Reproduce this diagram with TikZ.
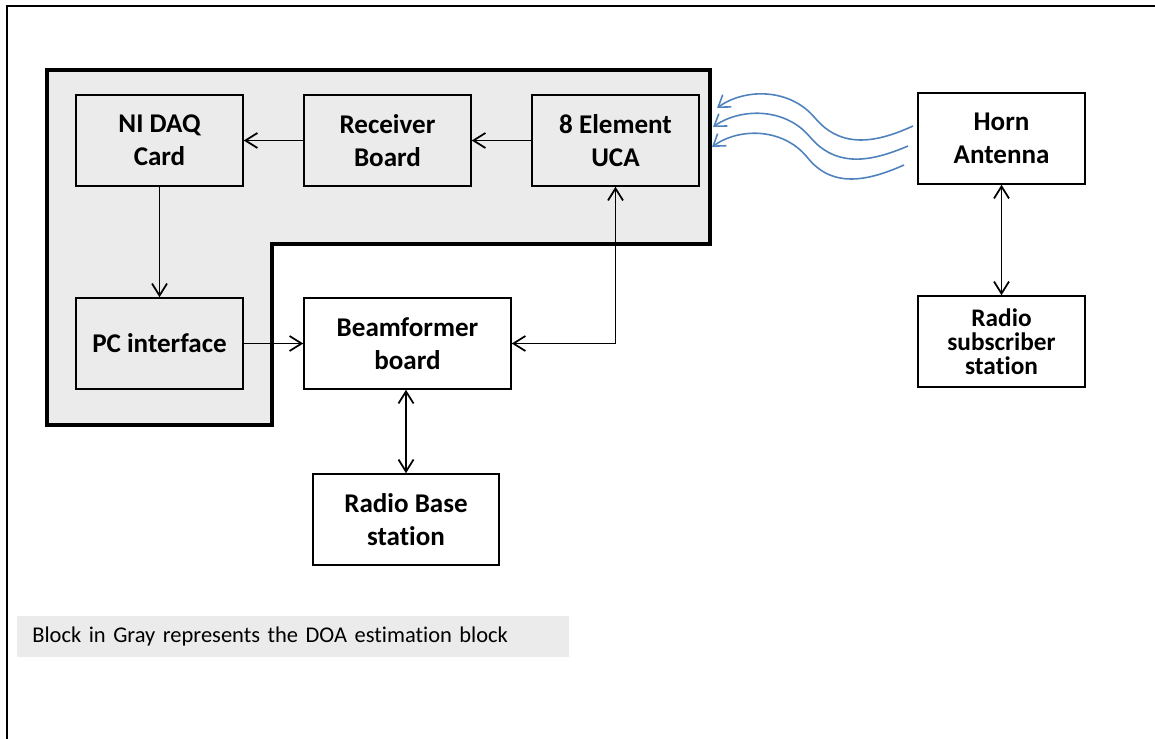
\documentclass[tikz,border=0pt]{standalone}
\usepackage{fontspec}
\setmainfont{Carlito}[Ligatures=NoCommon]
\usetikzlibrary{arrows.meta,positioning,calc}
\definecolor{doagray}{HTML}{EBEBEB}
\definecolor{wave}{HTML}{4F81BD}

\begin{document}
\begin{tikzpicture}[x=0.02cm,y=-0.02cm,
box/.style={draw,line width=0.9pt,align=center,minimum width=3.34cm,minimum height=1.82cm,font=\fontsize{15.4}{19}\selectfont\bfseries},
arrow/.style={-{Straight Barb[length=2.4mm,width=3mm]},line width=1pt},
dblarrow/.style={{Straight Barb[length=2.4mm,width=3mm]}-{Straight Barb[length=2.4mm,width=3mm]},line width=1pt},
wavy/.style={-{Straight Barb[length=2.2mm,width=3mm]},wave,line width=0.9pt},
note/.style={fill=doagray,anchor=west,minimum width=11.04cm,minimum height=0.82cm,text width=10.44cm,inner xsep=0.3cm,align=left,font=\fontsize{12.8}{15}\selectfont}]
\useasboundingbox (0,0) rectangle (1155,739);
% frame and gray DOA block
\draw[line width=1.4pt] (7,739) -- (7,6) -- (1155,6);
\filldraw[fill=doagray,line width=2pt] (47,70) -- (710,70) -- (710,244) -- (272,244) -- (272,425) -- (47,425) -- cycle;
% blocks
\node[box] (daq) at (159.5,140.5) {NI DAQ\\Card};
\node[box] (recv) at (387.5,140.5) {Receiver\\Board};
\node[box] (uca) at (615.5,140.5) {8 Element\\UCA};
\node[box] (pc) at (159.5,343.5) {PC interface};
\node[box,minimum width=4.14cm] (beam) at (407.5,343.5) {Beamformer\\board};
\node[box,minimum width=3.72cm] (base) at (406,519.5) {Radio Base\\station};
\node[box] (horn) at (1001.5,138.5) {Horn\\Antenna};
\node[box,font=\fontsize{14.4}{13.8}\selectfont\bfseries] (sub) at (1001.5,341.5) {Radio\\subscriber\\station};
\node[note] (caption) at (17,636.5) {Block in Gray represents the DOA estimation block};
% connections
\draw[arrow] (uca)--(recv);\draw[arrow] (recv)--(daq);\draw[arrow] (daq)--(pc);\draw[arrow] (pc)--(beam);
\draw[dblarrow] (beam.east) -| (uca.south);
\draw[dblarrow] (base.north |- beam.south)--(base.north);
\draw[dblarrow] (horn)--(sub);
% radio waves
\coordinate (s1) at (913,126);\coordinate (s2) at (908,146);\coordinate (s3) at (904,165);
\coordinate (t1) at (717,108);\coordinate (t2) at (713,127);\coordinate (t3) at (712,147);
\draw[wavy] (s1) .. controls (878,142) and (842,150) .. (815,118) .. controls (790,88) and (745,88) .. (t1);
\draw[wavy] (s2) .. controls (873,161) and (837,169) .. (810,137) .. controls (785,107) and (740,108) .. (t2);
\draw[wavy] (s3) .. controls (868,181) and (832,189) .. (807,157) .. controls (782,127) and (738,128) .. (t3);
\end{tikzpicture}
\end{document}
